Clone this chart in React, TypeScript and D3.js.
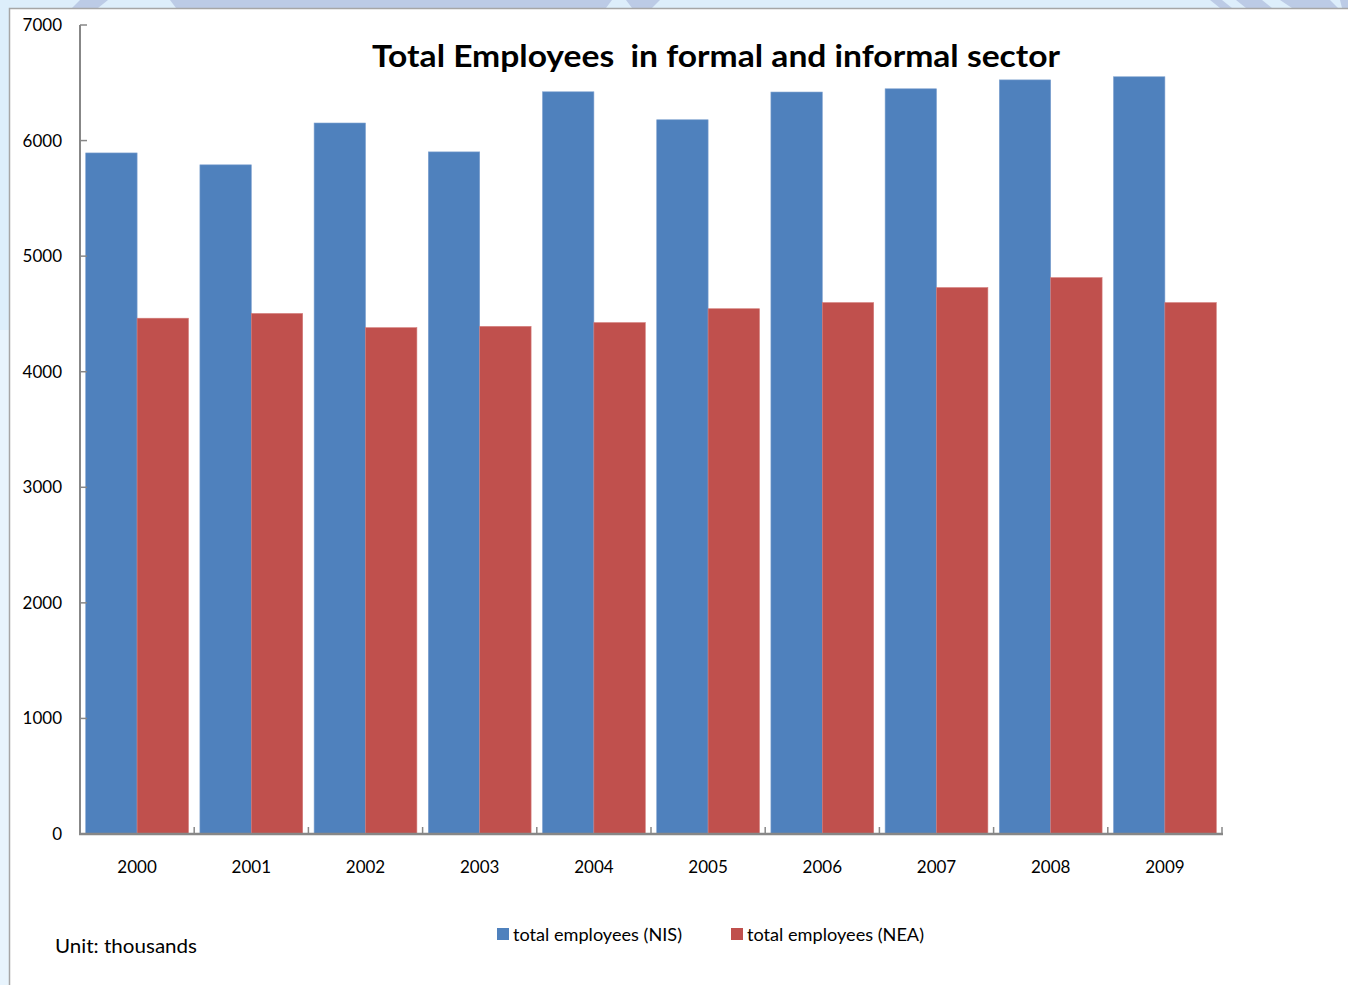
import React from "react";
import * as d3 from "d3";

const years = ["2000", "2001", "2002", "2003", "2004", "2005", "2006", "2007", "2008", "2009"];
const nisValues = [5893, 5790, 6152, 5902, 6422, 6180, 6420, 6448, 6525, 6552];
const neaValues = [4463, 4504, 4381, 4392, 4425, 4545, 4598, 4728, 4814, 4598];
const seriesNames = ["total employees (NIS)", "total employees (NEA)"];
const yTicks = [0, 1000, 2000, 3000, 4000, 5000, 6000, 7000];

const W = 1348;
const H = 985;
const FONT = "Lato, 'Open Sans', sans-serif";
const BLUE = "#4f81bd";
const RED = "#c0504d";
const AXIS = "#878787";

export default function App() {
  const x0 = d3.scaleBand<string>().domain(years).range([80, 1222]).paddingInner(0.1).paddingOuter(0.05);
  const x1 = d3.scaleBand<string>().domain(["nis", "nea"]).range([0, x0.bandwidth()]);
  const y = d3.scaleLinear().domain([0, 7000]).range([834, 25]);

  const boundaries = d3.range(years.length + 1).map((i) => 80 + i * ((1222 - 80) / years.length));

  return (
    <svg
      width={W}
      height={H}
      style={{ position: "absolute", left: 0, top: 0, display: "block" }}
      xmlns="http://www.w3.org/2000/svg"
    >
      {/* backdrop */}
      <rect x={0} y={0} width={W} height={H} fill="#ddeefb" />
      <rect x={0} y={330} width={9} height={H - 330} fill="#e8f4fd" />
      {/* top decorative swooshes */}
      <g fill="#bccbe6">
        <polygon points="80,0 108,0 98,8 72,8" />
        <polygon points="170,0 612,0 606,8 176,8" />
        <polygon points="626,0 660,0 652,8 632,8" />
        <polygon points="1210,0 1222,0 1232,8 1220,8" />
        <polygon points="1236,0 1262,0 1272,8 1246,8" />
        <polygon points="1280,0 1330,0 1338,8 1292,8" />
        <polygon points="1340,0 1348,0 1348,8 1342,8" />
      </g>
      {/* chart area */}
      <rect x={9.5} y={8.5} width={W} height={H} fill="#ffffff" stroke="#a6a6a6" strokeWidth={1.5} />

      {/* title */}
      <text
        x={716}
        y={67}
        textAnchor="middle"
        fontFamily={FONT}
        fontWeight="bold"
        fontSize={31}
        fill="#000"
        style={{ whiteSpace: "pre" }}
        textLength={688}
        lengthAdjust="spacingAndGlyphs"
      >
        {"Total Employees  in formal and informal sector"}
      </text>

      {/* bars */}
      {years.map((yr, i) => (
        <g key={yr} transform={`translate(${x0(yr)},0)`}>
          <rect
            x={x1("nis")}
            y={y(nisValues[i])}
            width={x1.bandwidth()}
            height={y(0) - y(nisValues[i])}
            fill={BLUE}
            stroke="#7ea1cf"
            strokeWidth={0.6}
          />
          <rect
            x={x1("nea")}
            y={y(neaValues[i])}
            width={x1.bandwidth()}
            height={y(0) - y(neaValues[i])}
            fill={RED}
            stroke="#d27b79"
            strokeWidth={0.6}
          />
        </g>
      ))}

      {/* y axis */}
      <line x1={80} x2={80} y1={y(7000)} y2={y(0)} stroke={AXIS} strokeWidth={2} />
      {yTicks.map((t) => (
        <g key={t}>
          <line x1={80} x2={87} y1={y(t)} y2={y(t)} stroke={AXIS} strokeWidth={1.5} />
          <text
            x={62}
            y={y(t)}
            dy="0.35em"
            textAnchor="end"
            fontFamily={FONT}
            fontSize={17}
            fill="#000"
          >
            {t}
          </text>
        </g>
      ))}

      {/* x axis */}
      <line x1={79} x2={1223} y1={y(0)} y2={y(0)} stroke={AXIS} strokeWidth={2.5} />
      {boundaries.map((bx, i) => (
        <line key={i} x1={bx} x2={bx} y1={y(0)} y2={y(0) - 7} stroke={AXIS} strokeWidth={1.5} />
      ))}
      {years.map((yr) => (
        <text
          key={yr}
          x={(x0(yr) as number) + x0.bandwidth() / 2}
          y={873}
          textAnchor="middle"
          fontFamily={FONT}
          fontSize={17}
          fill="#000"
        >
          {yr}
        </text>
      ))}

      {/* legend */}
      <rect x={497} y={928} width={12} height={12} fill={BLUE} />
      <text x={513} y={941} fontFamily={FONT} fontSize={18} fill="#000" textLength={169} lengthAdjust="spacingAndGlyphs">
        {seriesNames[0]}
      </text>
      <rect x={731} y={928} width={12} height={12} fill={RED} />
      <text x={747} y={941} fontFamily={FONT} fontSize={18} fill="#000" textLength={177} lengthAdjust="spacingAndGlyphs">
        {seriesNames[1]}
      </text>

      {/* unit note */}
      <text
        x={55}
        y={953}
        fontFamily={FONT}
        fontSize={20}
        fill="#000"
        style={{ whiteSpace: "pre" }}
        textLength={142}
        lengthAdjust="spacingAndGlyphs"
      >
        {"Unit: thousands"}
      </text>
    </svg>
  );
}
